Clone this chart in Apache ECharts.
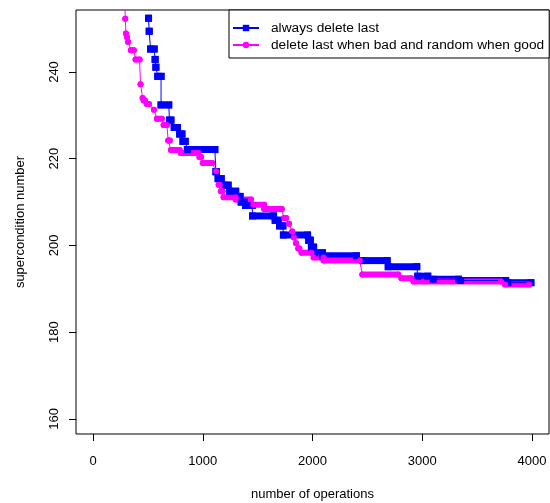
<!DOCTYPE html>
<html>
<head>
<meta charset="utf-8">
<script src="https://cdn.jsdelivr.net/npm/echarts@6/dist/echarts.min.js"></script>
<style>
  html, body { margin: 0; padding: 0; background: #fff; }
  #chart { width: 550px; height: 503px; }
</style>
</head>
<body>
<div id="chart"></div>
<script>
  // tick values
  var xTicks = [0, 1000, 2000, 3000, 4000];
  var yTicks = [160, 180, 200, 220, 240];

  // each run: [first operation, last operation, supercondition number]
  var blueRuns = [
    [506, 506, 252.4], [512, 512, 249.4], [524, 557, 245.3], [566, 566, 242.9],
    [573, 573, 241.1], [590, 620, 239.0], [620, 690, 232.4], [697, 710, 228.9],
    [740, 770, 227.2], [790, 810, 225.7], [820, 840, 224.0], [860, 1110, 222.1],
    [1120, 1125, 217.0], [1140, 1168, 215.4], [1204, 1231, 213.9], [1245, 1300, 212.5],
    [1320, 1340, 211.3], [1350, 1380, 210.0], [1390, 1450, 209.2], [1454, 1645, 206.8],
    [1660, 1690, 205.8], [1700, 1730, 204.5], [1735, 1955, 202.4], [1965, 1980, 201.2],
    [1990, 2010, 199.6], [2020, 2090, 198.3], [2090, 2400, 197.6], [2460, 2680, 196.5],
    [2690, 2950, 195.1], [2960, 3050, 192.9], [3100, 3330, 192.2], [3350, 3760, 191.9],
    [3780, 3990, 191.4]
  ];
  var pinkRuns = [
    [290, 290, 256.5], [294, 294, 252.3], [300, 300, 248.9], [310, 310, 248.0],
    [320, 320, 246.9], [345, 372, 245.0], [388, 424, 242.9], [433, 433, 237.2],
    [452, 452, 234.0], [462, 472, 233.4], [490, 510, 232.6], [555, 555, 231.3],
    [582, 627, 229.2], [643, 673, 227.8], [685, 700, 224.2], [710, 790, 222.0],
    [800, 960, 221.3], [970, 985, 220.4], [1000, 1085, 219.0], [1122, 1122, 217.1],
    [1145, 1155, 214.0], [1165, 1180, 212.5], [1190, 1300, 211.1], [1300, 1440, 210.6],
    [1460, 1560, 209.4], [1560, 1720, 208.4], [1740, 1760, 206.3], [1786, 1786, 205.0],
    [1815, 1815, 203.2], [1830, 1830, 201.8], [1850, 1850, 200.5], [1870, 1880, 199.3],
    [1900, 1990, 198.3], [2010, 2100, 197.2], [2100, 2430, 196.5], [2454, 2781, 193.3],
    [2810, 2900, 192.4], [2920, 3718, 191.7], [3754, 3972, 191.0]
  ];

  var blueName = 'always delete last';
  var pinkName = 'delete last when bad and random when good';
  var font = '"Liberation Sans", Arial, Helvetica, sans-serif';

  // end points of every run, for the thin connecting line
  function runPoints(runs) {
    var pts = [];
    runs.forEach(function (r) {
      pts.push([r[0], r[2]]);
      if (r[1] !== r[0]) pts.push([r[1], r[2]]);
    });
    return pts;
  }

  // thick band over a run, same height as the marker
  function bandRenderer(size, color, round) {
    return function (params, api) {
      var a = api.coord([api.value(0), api.value(2)]);
      var b = api.coord([api.value(1), api.value(2)]);
      return {
        type: 'rect',
        shape: { x: a[0] - size / 2, y: a[1] - size / 2, width: b[0] - a[0] + size, height: size, r: round ? size / 2 : 0 },
        style: { fill: color }
      };
    };
  }

  function plain(v) { return String(v); }

  var myChart = echarts.init(document.getElementById('chart'));
  var option = {
    animation: false,
    backgroundColor: '#fff',
    textStyle: { fontFamily: font, color: '#000' },
    grid: {
      left: 76, right: 1, top: 10, bottom: 69,
      outerBoundsMode: 'none', containLabel: false,
      show: true, borderColor: '#000', borderWidth: 1, backgroundColor: 'transparent'
    },
    legend: {
      data: [blueName, pinkName],
      orient: 'vertical',
      left: 229, top: 10,
      padding: [11, 5, 6, 3],
      itemWidth: 26, itemHeight: 8, itemGap: 3,
      borderColor: '#000', borderWidth: 1, borderRadius: 0,
      backgroundColor: '#fff',
      textStyle: { fontFamily: font, fontSize: 13.7, lineHeight: 12, color: '#000', padding: [0, 0, 0, 7] }
    },
    xAxis: {
      type: 'value', min: -155, max: 4155,
      name: 'number of operations', nameLocation: 'middle', nameGap: 54,
      nameTextStyle: { fontFamily: font, fontSize: 13, color: '#000' },
      axisLine: { show: false, onZero: false },
      axisTick: { show: true, customValues: xTicks, length: 7, lineStyle: { color: '#000' } },
      axisLabel: { customValues: xTicks, formatter: plain, margin: 21, fontFamily: font, fontSize: 13, color: '#000' },
      splitLine: { show: false }
    },
    yAxis: {
      type: 'value', min: 156.5, max: 254.3,
      name: 'supercondition number', nameLocation: 'middle', nameGap: 49,
      nameTextStyle: { fontFamily: font, fontSize: 13, color: '#000' },
      axisLine: { show: false, onZero: false },
      axisTick: { show: true, customValues: yTicks, length: 7, lineStyle: { color: '#000' } },
      axisLabel: { customValues: yTicks, formatter: plain, rotate: 90, margin: 15, fontFamily: font, fontSize: 13, color: '#000' },
      splitLine: { show: false }
    },
    series: [
      {
        name: blueName, type: 'line', data: runPoints(blueRuns),
        symbol: 'rect', symbolSize: 7, showSymbol: true,
        lineStyle: { color: '#0000ff', width: 1 }, itemStyle: { color: '#0000ff' },
        emphasis: { disabled: true }
      },
      {
        name: 'blue band', type: 'custom', data: blueRuns, clip: true,
        encode: { x: [0, 1], y: 2 },
        renderItem: bandRenderer(7, '#0000ff', false)
      },
      {
        name: pinkName, type: 'line', data: runPoints(pinkRuns),
        symbol: 'circle', symbolSize: 6, showSymbol: true,
        lineStyle: { color: '#ff00ff', width: 1 }, itemStyle: { color: '#ff00ff' },
        emphasis: { disabled: true }
      },
      {
        name: 'pink band', type: 'custom', data: pinkRuns, clip: true,
        encode: { x: [0, 1], y: 2 },
        renderItem: bandRenderer(6, '#ff00ff', true)
      }
    ]
  };
  myChart.setOption(option);
</script>
</body>
</html>
